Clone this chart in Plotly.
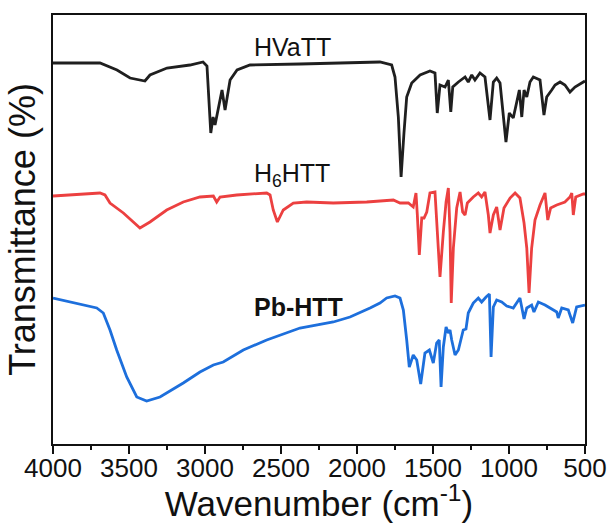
import plotly.graph_objects as go

# HVaTT (black)
hvatt_wn = [4000, 3691, 3579, 3493, 3395, 3362, 3250, 3099, 3013, 2987, 2962, 2947, 2934, 2888, 2868,
            2835, 2789, 2704, 2375, 2046, 1849, 1772, 1750, 1728, 1710, 1691, 1673, 1640, 1585, 1520,
            1487, 1472, 1454, 1421, 1399, 1383, 1370, 1333, 1289, 1268, 1245, 1224, 1191, 1158, 1125,
            1103, 1081, 1059, 1041, 1020, 998, 972, 949, 932, 916, 901, 883, 862, 840, 796, 770, 752,
            719, 697, 664, 632, 599, 566, 511, 500]
hvatt_t = [389, 389, 382, 374, 371, 377, 384, 387, 390, 386, 319, 335, 327, 362, 342,
           372, 382, 387, 388, 389, 390, 387, 375, 335, 275, 319, 355, 369, 377, 381,
           379, 339, 367, 365, 372, 340, 365, 370, 375, 370, 377, 372, 379, 375, 332,
           370, 374, 369, 342, 310, 339, 334, 350, 362, 335, 362, 355, 370, 375, 372, 337, 355,
           362, 367, 370, 367, 360, 365, 370, 371]

# H6HTT (red)
h6htt_wn = [4000, 3801, 3691, 3658, 3625, 3537, 3428, 3362, 3252, 3143, 3033, 2945, 2923, 2901, 2791,
            2594, 2572, 2551, 2524, 2485, 2419, 2331, 2156, 1936, 1783, 1761, 1717, 1662, 1630, 1612,
            1603, 1590, 1574, 1559, 1541, 1520, 1487, 1472, 1454, 1432, 1414, 1399, 1388, 1380, 1366,
            1344, 1322, 1305, 1289, 1274, 1235, 1202, 1180, 1158, 1136, 1125, 1103, 1081, 1059, 1033,
            993, 960, 928, 901, 883, 868, 851, 829, 796, 763, 745, 726, 686, 632, 599, 587, 577, 561,
            533, 511, 500]
h6htt_t = [256, 258, 259, 257, 249, 239, 224, 230, 242, 250, 255, 256, 250, 255, 257,
           259, 257, 242, 230, 242, 249, 250, 249, 250, 252, 252, 249, 249, 245, 259,
           237, 197, 234, 234, 240, 259, 260, 220, 175, 220, 250, 264, 220, 149, 204,
           244, 260, 240, 237, 249, 255, 259, 255, 260, 237, 219, 237, 245, 222, 244,
           254, 259, 254, 229, 204, 159, 204, 232, 247, 259, 232, 244, 247, 250, 255, 259, 237, 255,
           257, 258, 258]

# Pb-HTT (blue)
pbhtt_wn = [4000, 3888, 3712, 3669, 3625, 3581, 3515, 3449, 3384, 3296, 3143, 3033, 2945, 2880, 2748,
            2594, 2375, 2156, 2046, 1914, 1849, 1805, 1750, 1717, 1695, 1673, 1656, 1630, 1607, 1581,
            1553, 1524, 1498, 1476, 1459, 1447, 1432, 1414, 1399, 1388, 1377, 1355, 1333, 1301, 1283,
            1268, 1235, 1202, 1180, 1151, 1129, 1118, 1103, 1081, 1048, 1015, 972, 928, 901, 883, 851,
            836, 807, 763, 726, 686, 676, 653, 610, 581, 555, 515, 500]
pbhtt_t = [154, 150, 144, 139, 122, 102, 75, 55, 51, 55, 69, 80, 87, 90, 102,
           112, 124, 130, 135, 144, 149, 154, 156, 154, 142, 112, 85, 97, 92, 68,
           99, 102, 89, 109, 112, 65, 105, 125, 119, 122, 112, 97, 102, 122, 123,
           139, 149, 154, 150, 155, 158, 95, 145, 152, 150, 146, 144, 154, 133, 144, 147,
           140, 150, 147, 144, 140, 134, 144, 142, 129, 145, 147, 147]

labels = ["HVaTT", "H<sub>6</sub>HTT", "<b>Pb-HTT</b>"]
label_wn = [2691, 2691, 2691]
label_t = [405, 277, 145]

x_ticks = [4000, 3500, 3000, 2500, 2000, 1500, 1000, 500]

fig = go.Figure()
fig.add_trace(go.Scatter(x=hvatt_wn, y=hvatt_t, mode="lines",
                         line=dict(color="#1f1f1f", width=2.8), showlegend=False))
fig.add_trace(go.Scatter(x=h6htt_wn, y=h6htt_t, mode="lines",
                         line=dict(color="#ec4040", width=2.8), showlegend=False))
fig.add_trace(go.Scatter(x=pbhtt_wn, y=pbhtt_t, mode="lines",
                         line=dict(color="#1d6fdc", width=2.8), showlegend=False))

for txt, xw, yt in zip(labels, label_wn, label_t):
    fig.add_annotation(x=xw, y=yt, xref="x", yref="y", text=txt, showarrow=False,
                       xanchor="left", yanchor="middle",
                       font=dict(family="Liberation Sans", size=25, color="#111111"))

fig.update_layout(
    width=608, height=523,
    margin=dict(l=53, r=23, t=15, b=79),
    paper_bgcolor="white", plot_bgcolor="white",
    font=dict(family="Liberation Sans", color="#111111"),
    xaxis=dict(
        range=[4000, 500], autorange=False, automargin=False,
        tickmode="array", tickvals=x_ticks, ticktext=[str(v) for v in x_ticks],
        ticks="outside", ticklen=8, tickwidth=2, tickcolor="#111111",
        ticklabelstandoff=-8,
        minor=dict(ticks="outside", ticklen=4, tickwidth=2, tickcolor="#111111",
                   tickmode="linear", tick0=250, dtick=250, showgrid=False),
        showline=True, linewidth=2, linecolor="#111111", mirror=True,
        showgrid=False, zeroline=False,
        tickfont=dict(size=26, color="#111111"),
        title=dict(text="Wavenumber (cm<sup>-1</sup>)", font=dict(size=35, color="#111111"), standoff=5),
    ),
    yaxis=dict(
        range=[8, 437], autorange=False, automargin=False,
        showticklabels=False, ticks="",
        showline=True, linewidth=2, linecolor="#111111", mirror=True,
        showgrid=False, zeroline=False,
        title=dict(text="Transmittance (%)", font=dict(size=36, color="#111111"), standoff=4),
    ),
)

fig.write_html("out.html")
